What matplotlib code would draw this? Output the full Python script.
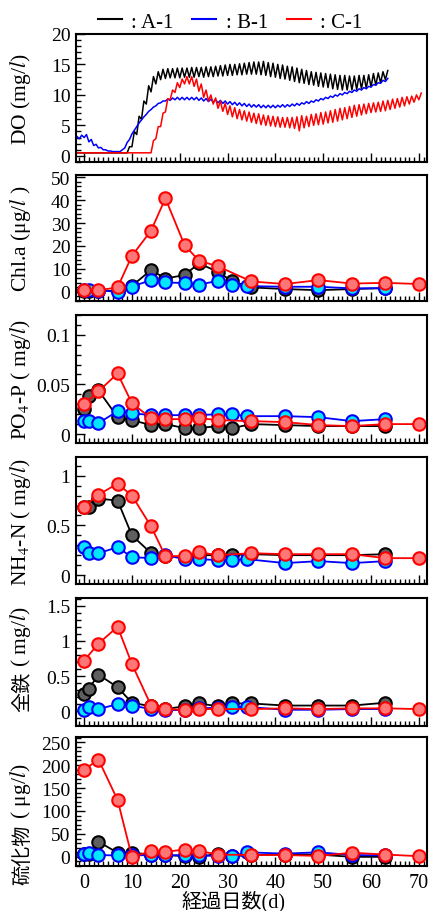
import matplotlib
matplotlib.use("Agg")
import matplotlib.pyplot as plt
from matplotlib.ticker import MultipleLocator, AutoMinorLocator
from matplotlib.lines import Line2D
import numpy as np

plt.rcParams['font.family'] = ['Liberation Serif', 'Noto Sans CJK JP']
plt.rcParams['mathtext.fontset'] = 'stix'

#DO record: daily low / high of the continuous logger
doDaysA = np.arange(-2, 64)
doLowA = [0.5, 0.5, 0.5, 0.5, 0.5, 0.5, 0.5, 0.5, 0.5, 0.5, 0.5,
          0.5, 1.5, 3.5, 6.0, 8.5, 10.5, 11.8, 12.5, 12.7, 12.8, 12.8, 12.8, 12.9, 12.9,
          12.9, 13.0, 12.9, 13.0, 13.0, 13.1, 13.1, 13.2, 13.2, 13.3, 13.3, 13.4, 13.4,
          13.4, 13.3, 13.2, 13.0, 12.9, 12.7, 12.6, 12.4, 12.2, 12.0, 11.9, 11.7, 11.6,
          11.4, 11.3, 11.2, 11.0, 10.9, 10.8, 10.8, 10.8, 10.9, 11.0, 11.1, 11.3, 11.6,
          12.0, 12.5]
doHighA = [0.5, 0.5, 0.5, 0.5, 0.5, 0.5, 0.5, 0.5, 0.5, 0.5, 0.5,
           1.5, 4.0, 6.5, 9.0, 11.5, 13.0, 13.8, 14.2, 14.3, 14.3, 14.4, 14.4, 14.4, 14.5,
           14.5, 14.5, 14.6, 14.6, 14.7, 14.8, 14.9, 15.0, 15.0, 15.1, 15.2, 15.3, 15.4,
           15.4, 15.5, 15.3, 15.2, 15.0, 14.9, 14.7, 14.6, 14.4, 14.2, 14.0, 13.8, 13.7,
           13.6, 13.5, 13.4, 13.3, 13.2, 13.2, 13.1, 13.1, 13.2, 13.2, 13.3, 13.5, 13.6,
           13.8, 14.0]

doDaysB = np.arange(-2, 64)
doLowB = [2.6, 2.8, 3.0, 2.3, 1.7, 1.3, 1.0, 0.8, 0.7, 0.7, 1.0, 2.2, 3.6, 4.8, 5.9,
          6.8, 7.6, 8.2, 8.7, 9.0, 9.1, 9.2, 9.2, 9.2, 9.2, 9.2, 9.1, 9.0, 8.9, 8.8, 8.7,
          8.6, 8.5, 8.4, 8.3, 8.2, 8.1, 8.0, 8.0, 7.9, 7.9, 7.9, 7.9, 8.0, 8.0, 8.1, 8.2,
          8.3, 8.5, 8.6, 8.8, 9.0, 9.2, 9.4, 9.6, 9.8, 10.0, 10.2, 10.4, 10.6, 10.8, 11.0,
          11.3, 11.6, 11.9, 12.2]
doHighB = [3.2, 3.4, 3.5, 2.7, 1.9, 1.4, 1.0, 0.8, 0.7, 0.7, 1.3, 2.7, 4.2, 5.4, 6.4,
           7.3, 8.0, 8.6, 9.0, 9.3, 9.5, 9.6, 9.6, 9.6, 9.6, 9.6, 9.5, 9.4, 9.3, 9.2, 9.1,
           9.0, 8.9, 8.8, 8.7, 8.6, 8.5, 8.4, 8.4, 8.3, 8.3, 8.3, 8.3, 8.4, 8.4, 8.5, 8.6,
           8.7, 8.9, 9.0, 9.2, 9.4, 9.6, 9.8, 10.0, 10.2, 10.4, 10.6, 10.8, 11.0, 11.2, 11.4,
           11.7, 12.0, 12.4, 12.7]

doDaysC = np.arange(-2, 71)
doLowC = [0.5, 0.5, 0.5, 0.5, 0.5, 0.5, 0.5, 0.5, 0.5, 0.5, 0.5, 0.5, 0.5, 0.5, 0.5, 0.5,
          0.5, 2.8, 4.8, 7.2, 9.2, 10.4, 11.2, 11.8, 11.8, 11.4, 10.6, 9.6, 9.0, 8.5, 7.8,
          7.3, 6.8, 6.4, 6.1, 5.9, 5.7, 5.5, 5.3, 5.1, 5.0, 4.9, 4.8, 4.7, 4.7, 4.6, 4.5,
          4.1, 4.6, 4.8, 5.0, 5.1, 5.2, 5.4, 5.5, 5.7, 5.9, 6.1, 6.3, 6.5, 6.7, 6.9, 7.1,
          7.2, 7.3, 7.4, 7.6, 7.8, 8.0, 8.2, 8.5, 8.8, 9.2]
doHighC = [0.5, 0.5, 0.5, 0.5, 0.5, 0.5, 0.5, 0.5, 0.5, 0.5, 0.5, 0.5, 0.5, 0.5, 0.5, 0.5,
           2.5, 4.8, 7.0, 9.4, 10.8, 12.0, 12.6, 13.0, 13.0, 12.6, 11.8, 10.8, 10.0, 9.5,
           9.0, 8.6, 8.2, 7.9, 7.6, 7.4, 7.2, 7.0, 6.9, 6.7, 6.6, 6.5, 6.4, 6.3, 6.3, 6.3,
           6.4, 6.6, 6.5, 6.8, 6.9, 7.1, 7.2, 7.4, 7.6, 7.8, 7.9, 8.1, 8.3, 8.4, 8.5, 8.6,
           8.7, 8.8, 9.0, 9.1, 9.3, 9.4, 9.6, 9.7, 9.8, 10.0, 10.3]

#sampling days
daysA = [0, 1, 3, 7, 10, 14, 17, 21, 24, 28, 31, 35, 42, 49, 56, 63]
daysB = [0, 1, 3, 7, 10, 14, 17, 21, 24, 28, 31, 34, 42, 49, 56, 63]
daysC = [0, 3, 7, 10, 14, 17, 21, 24, 28, 35, 42, 49, 56, 63, 70]

chlA = [0.5, 0.5, 0.5, 0.3, 2.6, 9.5, 5.8, 7.3, 12.4, 8.7, 4.5, 1.9, 1.2, 0.7, 1.2, 1.6]
chlB = [0.7, 0.7, 0.5, 0.1, 2.3, 5.1, 4.1, 3.8, 3.1, 4.8, 2.8, 2.5, 2.2, 2.2, 1.5, 1.6]
chlC = [0.7, 0.7, 1.9, 15.7, 26.7, 40.8, 20.4, 13.6, 11.1, 4.5, 3.4, 5.1, 3.6, 3.9, 3.4]

po4A = [0.025, 0.038, 0.044, 0.017, 0.014, 0.009, 0.010, 0.006, 0.006, 0.008, 0.006,
        0.010, 0.009, 0.008, 0.008, 0.008]
po4B = [0.013, 0.013, 0.011, 0.023, 0.021, 0.019, 0.019, 0.019, 0.019, 0.020, 0.020,
        0.018, 0.018, 0.017, 0.013, 0.015]
po4C = [0.030, 0.043, 0.061, 0.031, 0.016, 0.015, 0.015, 0.016, 0.014, 0.013, 0.012,
        0.009, 0.008, 0.010, 0.010]

nh4A = [0.69, 0.69, 0.77, 0.75, 0.40, 0.22, 0.19, 0.18, 0.20, 0.20, 0.20, 0.21, 0.20,
        0.20, 0.20, 0.21]
nh4B = [0.28, 0.22, 0.22, 0.28, 0.18, 0.17, 0.20, 0.16, 0.16, 0.15, 0.15, 0.16, 0.12,
        0.14, 0.12, 0.14]
nh4C = [0.69, 0.81, 0.92, 0.80, 0.49, 0.19, 0.19, 0.23, 0.20, 0.22, 0.21, 0.21, 0.21,
        0.17, 0.17]

feA = [0.24, 0.32, 0.52, 0.34, 0.12, 0.07, 0.03, 0.07, 0.11, 0.07, 0.11, 0.11, 0.08,
       0.08, 0.08, 0.12]
feB = [0.02, 0.06, 0.03, 0.10, 0.08, 0.03, 0.01, 0.02, 0.04, 0.05, 0.06, 0.06, 0.02,
       0.02, 0.03, 0.03]
feC = [0.72, 0.96, 1.20, 0.67, 0.08, 0.03, 0.02, 0.03, 0.03, 0.03, 0.04, 0.03, 0.04,
       0.04, 0.03]

sulA = [6, 7, 33, 9, 9, 5, 4, 1.5, 0, 7, 1.5, 4, 5, 5, 0, 0]
sulB = [7, 8, 4, 3, 3, 4, 3, 4, 3, 2, 1.5, 10, 7, 10, 4, 3]
sulC = [190, 212, 124, 0, 12, 11, 16, 13, 5, 4, 4, 2, 9, 5, 1.5]

#y labels: (japanese part, unit part)
labels = [('', 'DO (mg/$\\mathit{l}$)'), ('', 'Chl.a (\u03bcg/$\\mathit{l}$ )'),
          ('', 'PO$_4$-P ( mg/$\\mathit{l}$)'), ('', 'NH$_4$-N ( mg/$\\mathit{l}$)'),
          ('全鉄', ' ( mg/$\\mathit{l}$)'), ('硫化物', ' ( \u03bcg/$\\mathit{l}$)')]
labelSplit = [None, None, None, None, 0.43, 0.33]

#(bottom, height) of each panel in figure fraction
panelPos = [(0.8213, 0.1404), (0.6689, 0.1382), (0.5132, 0.1404),
            (0.3586, 0.1393), (0.2029, 0.1404), (0.0493, 0.1414)]
yLims = [(-1, 20), (-4, 51), (-0.009, 0.12), (-0.09, 1.19), (-0.21, 1.61), (-20, 261)]
yMajor = [5, 10, 0.05, 0.5, 0.5, 50]

styleA = dict(color='black', mfc='#5f5f5f', mec='black')
styleB = dict(color='#0000ff', mfc='#00e6ff', mec='#0000ff')
styleC = dict(color='#ff0000', mfc='#ff7676', mec='#ff0000')

labelX = -0.122
labelSize = 15.5


def zigzag(days, low, high):
    x = []
    y = []
    for d, lo, hi in zip(days, low, high):
        x += [d, d + 0.5]
        y += [lo, hi]
    return x, y


def fmtTick(v, pos):
    return '{:g}'.format(round(v, 4))


def styleAxis(ax, i):
    ax.set_xlim(-1.7, 71.7)
    ax.set_ylim(*yLims[i])
    ax.xaxis.set_major_locator(MultipleLocator(10))
    ax.xaxis.set_minor_locator(MultipleLocator(1))
    ax.yaxis.set_major_locator(MultipleLocator(yMajor[i]))
    ax.yaxis.set_minor_locator(AutoMinorLocator(5))
    ax.yaxis.set_major_formatter(fmtTick)
    ax.tick_params(which='both', direction='in', top=False, right=False, width=1)
    ax.tick_params(which='major', length=6.5, pad=4)
    ax.tick_params(which='minor', length=3.8)
    ax.tick_params(axis='y', labelsize=14)
    ax.tick_params(axis='x', labelsize=14.5, pad=5)
    for s in ax.spines.values():
        s.set_linewidth(1.5)
    jp, unit = labels[i]
    if jp == '':
        ax.set_ylabel(unit, fontsize=labelSize)
        ax.yaxis.set_label_coords(labelX, 0.5)
    else:
        ax.text(labelX, labelSplit[i], jp, transform=ax.transAxes, rotation=90,
                ha='right', va='top', fontsize=labelSize - 1)
        ax.text(labelX, labelSplit[i], unit, transform=ax.transAxes, rotation=90,
                ha='right', va='bottom', fontsize=labelSize)
    if i < 5:
        ax.set_xticklabels([])


def drawSamples(ax, a, b, c):
    ax.plot(daysA, a, 'o-', lw=1.3, ms=9, mew=1.5, **styleA)
    ax.plot(daysB, b, 'o-', lw=1.3, ms=9, mew=1.5, **styleB)
    ax.plot(daysC, c, 'o-', lw=1.3, ms=9, mew=1.5, **styleC)


fig = plt.figure(figsize=(4.3, 9.12), dpi=100)
axes = [fig.add_axes([0.1767, b, 0.8163, h]) for b, h in panelPos]

ax = axes[0]
for days, lo, hi, st in [(doDaysA, doLowA, doHighA, styleA),
                         (doDaysB, doLowB, doHighB, styleB),
                         (doDaysC, doLowC, doHighC, styleC)]:
    x, y = zigzag(days, lo, hi)
    ax.plot(x, y, color=st['color'], lw=1.1)

drawSamples(axes[1], chlA, chlB, chlC)
drawSamples(axes[2], po4A, po4B, po4C)
drawSamples(axes[3], nh4A, nh4B, nh4C)
drawSamples(axes[4], feA, feB, feC)
drawSamples(axes[5], sulA, sulB, sulC)

for i, ax in enumerate(axes):
    styleAxis(ax, i)

fig.text(233 / 430, 1 - 902 / 912, '経過日数(d)', ha='center', va='center', fontsize=14.5)

handles = [Line2D([], [], color='black', lw=1.5),
           Line2D([], [], color='#0000ff', lw=1.5),
           Line2D([], [], color='#ff0000', lw=1.5)]
fig.legend(handles, [': A-1', ': B-1', ': C-1'], loc='center', ncol=3,
           bbox_to_anchor=(0.535, 0.975), frameon=False, fontsize=15,
           handlelength=1.15, handletextpad=0.45, columnspacing=0.9,
           borderpad=0, borderaxespad=0)

fig.savefig('out.png', dpi=100)
